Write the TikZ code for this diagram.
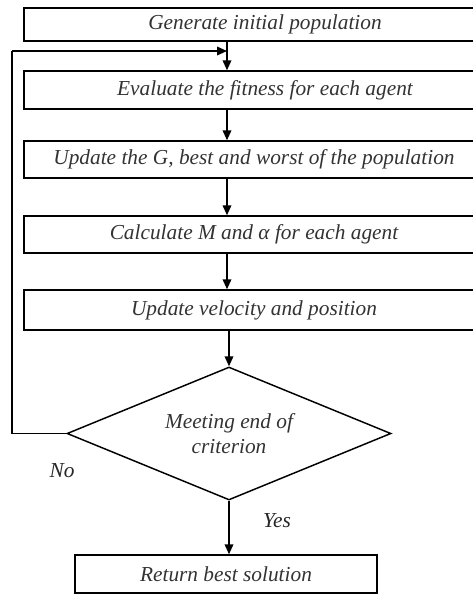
\documentclass[tikz,border=0pt]{standalone}
\usepackage{fontspec}
\setmainfont{Liberation Serif}
\usetikzlibrary{shapes.geometric,arrows.meta}
\begin{document}
\begin{tikzpicture}[x=0.75pt,y=-0.75pt,
  every node/.style={font=\itshape\fontsize{16}{19}\selectfont, text=black!80},
  box/.style={draw=black, line width=1.1pt, inner sep=0pt, minimum width=361.5pt},
  narrowbox/.style={box, minimum width=345pt},
  decision/.style={draw=black, line width=1.1pt, shape=diamond, aspect=2.45, inner sep=0pt,
     minimum width=243pt, minimum height=99.75pt, align=center},
  arr/.style={line width=1.1pt, -{Triangle[length=7.5pt,width=6.5pt]}},
  lbl/.style={font=\itshape\fontsize{16}{19}\selectfont, text=black!85}]
\useasboundingbox (0,0) rectangle (473,594);
\clip (0,0) rectangle (473,594);
\node[box, minimum height=24.75pt] (b1) at (265,24.5) {Generate initial population};
\node[box, minimum height=28.5pt] (b2) at (265,90) {Evaluate the fitness for each agent};
\node[narrowbox, minimum height=27.75pt] (b3) at (254,159.5) {Update the G, best and worst of the population};
\node[narrowbox, minimum height=27.75pt] (b4) at (254,234.5) {Calculate M and α for each agent};
\node[narrowbox, minimum height=30pt] (b5) at (254,310) {Update velocity and position};
\node[decision] (d) at (229,433.5) {Meeting end of\\criterion};
\node[box, minimum width=226.5pt, minimum height=28.5pt] (b6) at (226,574) {Return best solution};
\coordinate (c1) at (12,433.5);
\coordinate (c2) at (12,51);
\coordinate (m) at (227,51);
\draw[arr] (b1.south -| m) -- (b2.north -| m);
\draw[arr] (b2.south -| m) -- (b3.north -| m);
\draw[arr] (b3.south -| m) -- (b4.north -| m);
\draw[arr] (b4.south -| m) -- (b5.north -| m);
\draw[arr] (b5.south -| d.north) -- (d.north);
\draw[arr] (d.south) -- (b6.north -| d.south);
\draw[line width=1.1pt] (d.west) -- (c1) -- (c2);
\draw[arr] (c2) -- (m);
\node[lbl] (no) at (62,471) {No};
\node[lbl] (yes) at (277,521) {Yes};
\end{tikzpicture}
\end{document}
